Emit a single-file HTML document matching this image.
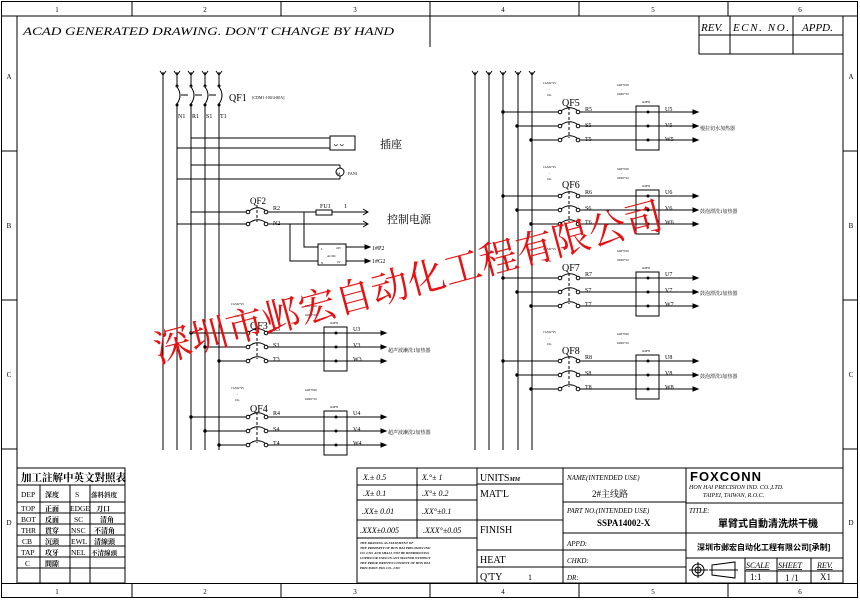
<!DOCTYPE html>
<html><head><meta charset="utf-8"><style>
body{margin:0;background:#fff}
svg{display:block}
text{font-family:"Liberation Serif","Noto Serif CJK SC",serif;fill:#000}
.s{font-family:"Liberation Sans","Noto Sans CJK SC",sans-serif}
.it{font-style:italic}
</style></head><body>
<svg width="860" height="601" viewBox="0 0 860 601" xmlns="http://www.w3.org/2000/svg">
<defs>
<g id="br" stroke="#000" fill="none" stroke-width="1">
  <line x1="0" y1="0" x2="55" y2="0"/><line x1="77" y1="0" x2="190" y2="0"/>
  <line x1="14" y1="14" x2="55" y2="14"/><line x1="77" y1="14" x2="190" y2="14"/>
  <line x1="28" y1="28" x2="55" y2="28"/><line x1="77" y1="28" x2="190" y2="28"/>
  <circle cx="57" cy="0" r="1.8"/><circle cx="75" cy="0" r="1.8"/>
  <circle cx="57" cy="14" r="1.8"/><circle cx="75" cy="14" r="1.8"/>
  <circle cx="57" cy="28" r="1.8"/><circle cx="75" cy="28" r="1.8"/>
  <path d="M58,-1 Q66,-7 74,-2 M58,13 Q66,7 74,12 M58,27 Q66,21 74,26"/>
  <line x1="66" y1="-5" x2="66" y2="26" stroke-dasharray="3,2"/>
  <rect x="133" y="-6" width="23" height="44"/>
  <path d="M190,-2 L195,0 L190,2Z M190,12 L195,14 L190,16Z M190,26 L195,28 L190,30Z" fill="#000"/>
  <circle cx="145" cy="0" r="1" fill="#000"/><circle cx="145" cy="14" r="1" fill="#000"/><circle cx="145" cy="28" r="1" fill="#000"/>
  <circle cx="0" cy="0" r="1.2" fill="#000"/><circle cx="14" cy="14" r="1.2" fill="#000"/><circle cx="28" cy="28" r="1.2" fill="#000"/>
  <text x="40" y="-28" font-size="3" fill="#555" stroke="none">CGM2*25</text>
  <text x="46" y="-22" font-size="3" fill="#555" stroke="none">-</text>
  <text x="44" y="-16" font-size="3" fill="#555" stroke="none">16a</text>
  <text x="114" y="-26" font-size="3" fill="#555" stroke="none">GRF7020</text>
  <text x="118" y="-22" font-size="3" fill="#555" stroke="none">-</text>
  <text x="114" y="-17" font-size="3" fill="#555" stroke="none">0400J*20</text>
  <text x="139" y="-9" font-size="3" fill="#555" stroke="none">0e0FN</text>
</g>
</defs>
<g stroke="#000" fill="none" stroke-width="1">
<rect x="1.5" y="1.5" width="856" height="596"/>
<line x1="1.5" y1="16" x2="858" y2="16"/>
<line x1="1.5" y1="583.5" x2="858" y2="583.5"/>
<line x1="17" y1="16" x2="17" y2="583"/>
<line x1="843" y1="16" x2="843" y2="583"/>
<line x1="132" y1="1" x2="132" y2="16"/><line x1="281" y1="1" x2="281" y2="16"/><line x1="430" y1="1" x2="430" y2="47"/><line x1="579" y1="1" x2="579" y2="16"/><line x1="728" y1="1" x2="728" y2="16"/>
<line x1="132" y1="583" x2="132" y2="598"/><line x1="281" y1="583" x2="281" y2="598"/><line x1="430" y1="583" x2="430" y2="598"/><line x1="579" y1="583" x2="579" y2="598"/><line x1="728" y1="583" x2="728" y2="598"/>
<line x1="1" y1="151" x2="17" y2="151"/><line x1="1" y1="300" x2="17" y2="300"/><line x1="1" y1="449" x2="17" y2="449"/>
<line x1="843" y1="151" x2="858" y2="151"/><line x1="843" y1="300" x2="858" y2="300"/><line x1="843" y1="449" x2="858" y2="449"/>
<rect x="699" y="16" width="144" height="38"/>
<line x1="699" y1="35" x2="843" y2="35"/><line x1="730" y1="16" x2="730" y2="54"/><line x1="793" y1="16" x2="793" y2="54"/>

<line x1="163" y1="72" x2="163" y2="450"/>
<line x1="177" y1="72" x2="177" y2="86"/><line x1="177" y1="103" x2="177" y2="450"/>
<line x1="191" y1="72" x2="191" y2="86"/><line x1="191" y1="103" x2="191" y2="450"/>
<line x1="205" y1="72" x2="205" y2="86"/><line x1="205" y1="103" x2="205" y2="450"/>
<line x1="219" y1="72" x2="219" y2="86"/><line x1="219" y1="103" x2="219" y2="450"/>
<path d="M160,71 L163,75 L166,71 M174,71 L177,75 L180,71 M188,71 L191,75 L194,71 M202,71 L205,75 L208,71 M216,71 L219,75 L222,71"/>
<path d="M177,87 Q183,95 177,104 M191,87 Q197,95 191,104 M205,87 Q211,95 205,104 M219,87 Q225,95 219,104"/>
<path d="M181,95 L188,95 M195,95 L202,95 M209,95 L216,95"/>
<circle cx="177" cy="86" r="1"/><circle cx="177" cy="105" r="1"/><circle cx="191" cy="86" r="1"/><circle cx="191" cy="105" r="1"/><circle cx="205" cy="86" r="1"/><circle cx="205" cy="105" r="1"/><circle cx="219" cy="86" r="1"/><circle cx="219" cy="105" r="1"/>
<line x1="191" y1="138" x2="330" y2="138"/><line x1="177" y1="148" x2="330" y2="148"/>
<rect x="330" y="136" width="25" height="14"/>
<line x1="191" y1="165" x2="340" y2="165"/><line x1="177" y1="179" x2="340" y2="179"/>
<line x1="340" y1="165" x2="340" y2="168"/><line x1="340" y1="176" x2="340" y2="179"/>
<circle cx="340" cy="172" r="4"/>
<line x1="191" y1="212" x2="246" y2="212"/><line x1="268" y1="212" x2="316" y2="212"/><line x1="332" y1="212" x2="367" y2="212"/>
<line x1="177" y1="224" x2="246" y2="224"/><line x1="268" y1="224" x2="367" y2="224"/>
<circle cx="248" cy="212" r="1.8"/><circle cx="266" cy="212" r="1.8"/><circle cx="248" cy="224" r="1.8"/><circle cx="266" cy="224" r="1.8"/>
<path d="M249,211 Q257,205 265,210 M249,223 Q257,217 265,222"/>
<line x1="257" y1="205" x2="257" y2="222" stroke-dasharray="3,2"/>
<rect x="316" y="210" width="16" height="5"/>
<path d="M363,209 L368,212 L363,215 M363,221 L368,224 L363,227"/>
<polyline points="304,212 304,247 318,247"/><polyline points="290,224 290,261 318,261"/>
<rect x="318" y="244" width="28" height="21"/>
<line x1="346" y1="247" x2="368" y2="247"/><line x1="346" y1="261" x2="368" y2="261"/>
<path d="M365,245 L370,247 L365,249Z M365,259 L370,261 L365,263Z" fill="#000"/>
<line x1="475" y1="72" x2="475" y2="450"/><line x1="489" y1="72" x2="489" y2="450"/><line x1="503" y1="72" x2="503" y2="450"/><line x1="518" y1="72" x2="518" y2="450"/><line x1="532" y1="72" x2="532" y2="450"/>
<path d="M472,71 L475,75 L478,71 M486,71 L489,75 L492,71 M500,71 L503,75 L506,71 M515,71 L518,75 L521,71 M529,71 L532,75 L535,71"/>
</g>
<g stroke-width="0">
<use href="#br" x="191" y="333"/>
<use href="#br" x="191" y="417"/>
<use href="#br" x="503" y="112"/>
<use href="#br" x="503" y="196"/>
<use href="#br" x="503" y="278"/>
<use href="#br" x="503" y="361"/>
</g>
<g font-size="6">
<text x="178" y="118">N1</text><text x="192" y="118">R1</text><text x="206" y="118">S1</text><text x="220" y="118">T1</text>
<text x="229" y="101" font-size="10">QF1</text>
<text x="252" y="99" font-size="4">[CDM1-100/4-80A]</text>
<text x="380" y="148" font-size="11">插座</text>
<text x="348" y="175" font-size="4">FAN1</text>
<text x="250" y="204" font-size="9">QF2</text>
<text x="273" y="210">R2</text><text x="273" y="225">N2</text>
<text x="320" y="208">FU1</text><text x="344" y="208">1</text>
<text x="387" y="223" font-size="11">控制电源</text>
<text x="321" y="250" font-size="3">L</text><text x="321" y="264" font-size="3">N</text><text x="327" y="257" font-size="3">AC/DC</text>
<text x="336" y="249" font-size="3">24V</text><text x="337" y="263" font-size="3">0V</text>
<text x="372" y="250">1#P2</text><text x="372" y="263">1#G2</text>

<text x="250" y="329" font-size="10">QF3</text>
<text x="273" y="331">R3</text><text x="273" y="347">S3</text><text x="273" y="361">T3</text>
<text x="353" y="331">U3</text><text x="353" y="347">V3</text><text x="353" y="361">W3</text>
<text x="388" y="352" font-size="5">超声波濑洗1加热器</text>
<text x="250" y="412" font-size="10">QF4</text>
<text x="273" y="415">R4</text><text x="273" y="431">S4</text><text x="273" y="445">T4</text>
<text x="353" y="415">U4</text><text x="353" y="431">V4</text><text x="353" y="445">W4</text>
<text x="388" y="434" font-size="5">超声波濑洗2加热器</text>

<text x="562" y="106" font-size="10">QF5</text>
<text x="585" y="111">R5</text><text x="585" y="127">S5</text><text x="585" y="141">T5</text>
<text x="665" y="111">U5</text><text x="665" y="127">V5</text><text x="665" y="141">W5</text>
<text x="700" y="130" font-size="5">慢拉切水加热器</text>
<text x="562" y="188" font-size="10">QF6</text>
<text x="585" y="194">R6</text><text x="585" y="210">S6</text><text x="585" y="224">T6</text>
<text x="665" y="194">U6</text><text x="665" y="210">V6</text><text x="665" y="224">W6</text>
<text x="700" y="213" font-size="5">鼓泡漂洗1加热器</text>
<text x="562" y="271" font-size="10">QF7</text>
<text x="585" y="276">R7</text><text x="585" y="292">S7</text><text x="585" y="306">T7</text>
<text x="665" y="276">U7</text><text x="665" y="292">V7</text><text x="665" y="306">W7</text>
<text x="700" y="295" font-size="5">鼓泡漂洗2加热器</text>
<text x="562" y="354" font-size="10">QF8</text>
<text x="585" y="359">R8</text><text x="585" y="375">S8</text><text x="585" y="389">T8</text>
<text x="665" y="359">U8</text><text x="665" y="375">V8</text><text x="665" y="389">W8</text>
<text x="700" y="378" font-size="5">鼓泡漂洗3加热器</text>
</g>
<text x="334" y="146" font-size="7" class="s">ᴗ ᴗ</text>
<text x="337" y="175" font-size="4" class="s">M</text>

<g class="s" font-size="7" text-anchor="middle">
<text x="57" y="12">1</text><text x="205" y="12">2</text><text x="355" y="12">3</text><text x="503" y="12">4</text><text x="653" y="12">5</text><text x="800" y="12">6</text>
<text x="57" y="594">1</text><text x="205" y="594">2</text><text x="355" y="594">3</text><text x="503" y="594">4</text><text x="653" y="594">5</text><text x="800" y="594">6</text>
<text x="9" y="79">A</text><text x="9" y="228">B</text><text x="9" y="377">C</text><text x="9" y="525">D</text>
<text x="851" y="79">A</text><text x="851" y="228">B</text><text x="851" y="377">C</text><text x="851" y="525">D</text>
</g>
<text x="23" y="35" font-size="12" class="it" textLength="371" lengthAdjust="spacingAndGlyphs">ACAD GENERATED DRAWING. DON'T CHANGE BY HAND</text>
<g font-size="11" class="it">
<text x="701" y="31">REV.</text><text x="733" y="31" textLength="56" lengthAdjust="spacing">ECN. NO.</text><text x="802" y="31">APPD.</text>
</g>

<text x="158" y="363" font-size="38" style="fill:#e81010" transform="rotate(-15 158 363)" font-family="Noto Serif CJK SC,serif" textLength="525" lengthAdjust="spacingAndGlyphs">深圳市邺宏自动化工程有限公司</text>

<g stroke="#000" fill="none" stroke-width="1">
<rect x="17" y="468" width="108" height="115"/>
<line x1="17" y1="485" x2="125" y2="485"/><line x1="17" y1="502" x2="125" y2="502"/><line x1="17" y1="513" x2="125" y2="513"/><line x1="17" y1="524" x2="125" y2="524"/><line x1="17" y1="535" x2="125" y2="535"/><line x1="17" y1="546" x2="125" y2="546"/><line x1="17" y1="557" x2="125" y2="557"/><line x1="17" y1="568" x2="125" y2="568"/>
<line x1="40" y1="485" x2="40" y2="583"/><line x1="70" y1="485" x2="70" y2="583"/><line x1="90" y1="485" x2="90" y2="583"/>
</g>
<g class="s" font-size="7.5">
<text x="21" y="481" font-size="10.5" font-weight="bold">加工註解中英文對照表</text>
<g fill="#444"><text x="21" y="497">DEP</text><text x="21" y="511">TOP</text><text x="21" y="522">BOT</text><text x="21" y="533">THR</text><text x="22" y="544">CB</text><text x="21" y="555">TAP</text><text x="25" y="566">C</text>
<text x="75" y="497">S</text><text x="70" y="511">EDGE</text><text x="74" y="522">SC</text><text x="71" y="533">NSC</text><text x="71" y="544">EWL</text><text x="71" y="555">NEL</text></g>
<g font-weight="bold" font-size="7"><text x="45" y="497">深度</text><text x="45" y="511">正面</text><text x="45" y="522">反面</text><text x="45" y="533">貫穿</text><text x="45" y="544">沉頭</text><text x="45" y="555">攻牙</text><text x="45" y="566">間隙</text>
<text x="91" y="497" font-size="6.5">落料斜度</text><text x="96" y="511">刀口</text><text x="100" y="522">清角</text><text x="94" y="533">不清角</text><text x="94" y="544">清線頭</text><text x="91" y="555" font-size="6.5">不清線頭</text></g>
</g>

<g stroke="#000" fill="none" stroke-width="1">
<rect x="357" y="468" width="486" height="115"/>
<line x1="417" y1="468" x2="417" y2="538"/><line x1="477" y1="468" x2="477" y2="583"/><line x1="563" y1="468" x2="563" y2="583"/><line x1="686" y1="468" x2="686" y2="583"/>
<line x1="357" y1="485" x2="477" y2="485"/><line x1="357" y1="500" x2="477" y2="500"/><line x1="357" y1="520" x2="477" y2="520"/><line x1="357" y1="538" x2="477" y2="538"/>
<line x1="477" y1="484" x2="563" y2="484"/><line x1="477" y1="520" x2="563" y2="520"/><line x1="477" y1="550" x2="563" y2="550"/><line x1="477" y1="567" x2="563" y2="567"/>
<line x1="563" y1="502" x2="686" y2="502"/><line x1="563" y1="533" x2="686" y2="533"/><line x1="563" y1="550" x2="686" y2="550"/><line x1="563" y1="567" x2="686" y2="567"/>
<line x1="686" y1="503" x2="843" y2="503"/><line x1="686" y1="533" x2="843" y2="533"/><line x1="686" y1="558" x2="843" y2="558"/>
<line x1="745" y1="558" x2="745" y2="583"/><line x1="777" y1="558" x2="777" y2="583"/><line x1="811" y1="558" x2="811" y2="583"/><line x1="745" y1="571" x2="843" y2="571"/>
<circle cx="698" cy="570" r="6"/><circle cx="698" cy="570" r="3"/><line x1="689" y1="570" x2="708" y2="570"/><line x1="698" y1="562" x2="698" y2="578"/>
<path d="M712,565 L735,562 L735,578 L712,575 Z"/><line x1="709" y1="570" x2="738" y2="570"/>
</g>
<g font-size="8" class="it">
<text x="363" y="480">X.±   0.5</text><text x="422" y="480">X.°± 1</text>
<text x="363" y="496">.X±   0.1</text><text x="422" y="496">.X°±  0.2</text>
<text x="362" y="514">.XX±  0.01</text><text x="422" y="514">.XX°±0.1</text>
<text x="360" y="533">.XXX±0.005</text><text x="423" y="533">.XXX°±0.05</text>
</g>
<g font-size="3.3" font-weight="bold" class="it">
<text x="360" y="544">THE DRAWING AS STATEMENT OF</text>
<text x="360" y="549">THE PROPERTY OF HON HAI PRECISION IND</text>
<text x="360" y="554">CO. LTD. AND SHALL NOT BE REPRODUCED,</text>
<text x="360" y="559">COPIED OR USED IN ANY MANNER WITHOUT</text>
<text x="360" y="564">THE PRIOR WRITTEN CONSENT OF HON HAI</text>
<text x="360" y="569">PRECISION IND. CO., LTD</text>
</g>
<g class="s" font-size="10">
<text x="480" y="481">UNITS<tspan font-size="6" font-style="italic" font-weight="bold" font-family="Liberation Serif">MM</tspan></text>
<text x="480" y="497">MAT'L</text><text x="480" y="533">FINISH</text><text x="480" y="563">HEAT</text><text x="480" y="580">Q'TY</text><text x="528" y="580" font-size="8">1</text>
</g>
<g font-size="7" class="it">
<text x="567" y="480">NAME(INTENDED USE)</text>
<text x="567" y="513">PART NO.(INTENDED USE)</text>
<text x="567" y="546">APPD:</text><text x="567" y="563">CHKD:</text><text x="567" y="580">DR:</text>
<text x="689" y="513">TITLE:</text>
<text x="689" y="489" font-size="6">HON HAI PRECISION IND. CO.,LTD.</text>
<text x="703" y="497" font-size="6">TAIPEI, TAIWAN, R.O.C.</text>
</g>
<text x="592" y="497" font-size="9" fill="#333" font-family="Liberation Serif,Noto Serif CJK SC,serif">2#主线路</text>
<text x="597" y="526" font-size="9" font-weight="bold">SSPA14002-X</text>
<text x="690" y="481" font-size="13" font-weight="bold" class="s" letter-spacing="1">FOXCONN</text>
<text x="718" y="527" font-size="10" font-weight="bold" class="s">單臂式自動清洗烘干機</text>
<text x="697" y="550" font-size="8" font-weight="bold" class="s">深圳市邺宏自动化工程有限公司[承制]</text>
<g font-size="8" class="it" text-decoration="underline"><text x="746" y="568">SCALE</text><text x="778" y="568">SHEET</text><text x="817" y="568">REV.</text></g>
<g font-size="9" class="s"><text x="750" y="580">1:1</text><text x="785" y="581">1 /1</text><text x="820" y="580">X1</text></g>
</svg>
</body></html>
